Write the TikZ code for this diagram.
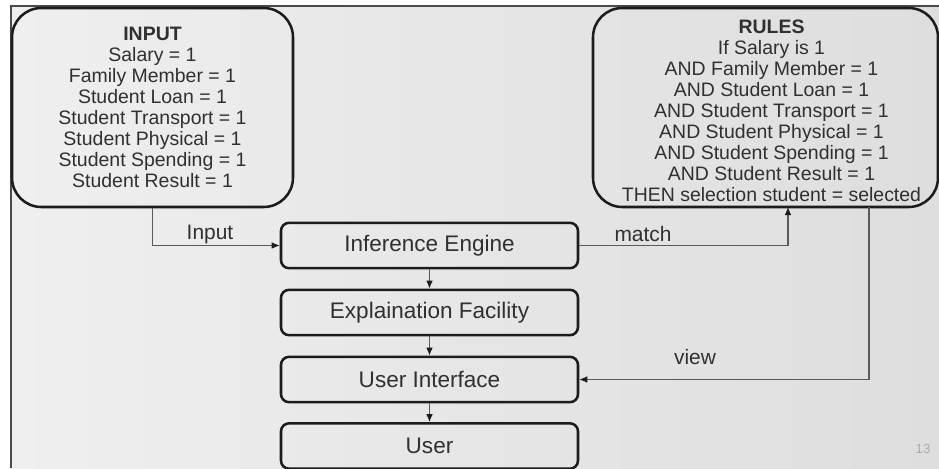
\documentclass[tikz,border=0pt]{standalone}
\usepackage{fontspec}
\setmainfont{Liberation Sans}
\usetikzlibrary{arrows.meta,calc}
\definecolor{bgmid}{HTML}{E6E6E6}
\definecolor{bgleft}{HTML}{EFEFEF}
\definecolor{bgright}{HTML}{DEDEDE}
\definecolor{frame}{HTML}{4A4A4A}
\definecolor{boxline}{HTML}{1C1C1C}
\definecolor{txt}{HTML}{303030}
\definecolor{conncol}{HTML}{5A5A5A}
\tikzset{
  bigbox/.style={draw=boxline, line width=1.9pt, rounded corners=22pt,
    minimum height=149.25pt, align=center, text=txt,
    font=\fontsize{14.6}{15.75}\selectfont, inner sep=0pt},
  stepbox/.style={draw=boxline, line width=1.9pt, rounded corners=6pt,
    minimum width=222.75pt, minimum height=34pt, text=txt,
    font=\fontsize{16.9}{20}\selectfont, inner sep=0pt},
  conn/.style={draw=conncol, line width=0.8pt,
    -{Latex[length=6pt,width=5pt,color=boxline]}},
  lbl/.style={text=txt, font=\fontsize{15.7}{18}\selectfont, inner sep=0pt},
}
\begin{document}
\begin{tikzpicture}[x=0.75pt,y=-0.75pt]
\useasboundingbox (0,0) rectangle (939,468);
% background
\fill[white] (0,0) rectangle (939,468);
\shade[left color=bgleft, right color=bgright, middle color=bgmid] (10,6) rectangle (939,468);
\draw[frame, line width=1.5pt] (10.5,468) -- (10.5,6) -- (939,6);

% big boxes
\node[bigbox, minimum width=210.75pt] (inputbox) at (152.5,107.5)
  {\textbf{INPUT}\\Salary = 1\\Family Member = 1\\Student Loan = 1\\Student Transport = 1\\Student Physical = 1\\Student Spending = 1\\Student Result = 1};
\node[bigbox, minimum width=258.75pt] (rules) at (765.5,107.5)
  {\hspace*{9pt}\raisebox{-4.5pt}[\height][\depth]{\begin{tabular}{@{}c@{}}\textbf{RULES}\\If Salary is 1\\AND Family Member = 1\\AND Student Loan = 1\\AND Student Transport = 1\\AND Student Physical = 1\\AND Student Spending = 1\\AND Student Result = 1\\THEN selection student = selected\end{tabular}}};

% middle column
\node[stepbox] (inf) at (429.5,245.5) {Inference Engine};
\node[stepbox] (exp) at (429.5,312.5) {Explaination Facility};
\node[stepbox] (ui)  at (429.5,379.5) {User Interface};
\node[stepbox] (usr) at (429.5,446)   {User};

% connectors
\coordinate (mt) at (788,207);
\coordinate (vt) at (869,207);
\draw[conn] (inputbox.south) |- (inf.west);
\draw[conn] (inf.east) -| (mt);
\draw[conn] (vt) |- (ui.east);
\draw[conn] (inf) -- (exp);
\draw[conn] (exp) -- (ui);
\draw[conn] (ui) -- (usr);

% labels
\node[lbl] (linput) at (210,234) {Input};
\node[lbl] (lmatch) at (643,234) {match};
\node[lbl] (lview)  at (695,357) {view};
\node[text=gray!65, font=\fontsize{10}{11}\selectfont, inner sep=0pt] (pg) at (923,449) {13};
\end{tikzpicture}
\end{document}
